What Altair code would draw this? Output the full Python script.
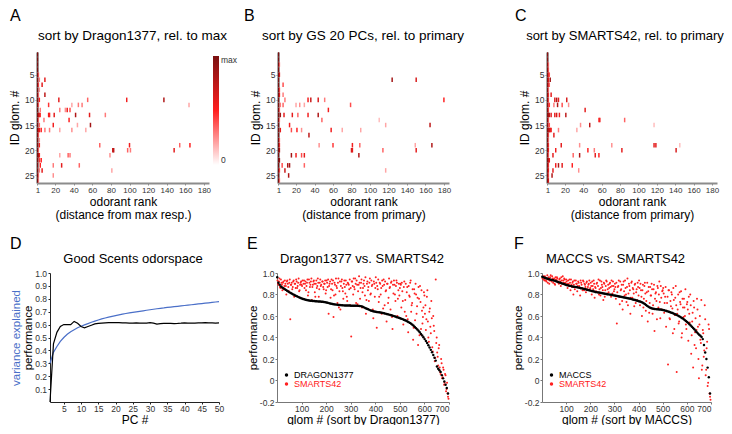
import altair as alt
import pandas as pd

FONT = "Liberation Sans"
RED = "#ff2020"
BLUE = "#4a6fc8"
HEAT_GREY = "#8c8c8c"

# ---------------- heatmap data (glomerulus row, odorant rank, relative response) ----------------
GLOM_IDS = list(range(1, 27))
ROW_TICKS = [5, 10, 15, 20, 25]
RANK_TICKS = [1, 20, 40, 60, 80, 100, 120, 140, 160, 180]

A_RANK1 = [1.0, 1.0, 1.0, 1.0, 1.0, 1.0, 1.0, 1.0, 1.0, 1.0, 1.0, 1.0, 1.0,
           1.0, 1.0, 1.0, 1.0, 1.0, 1.0, 1.0, 1.0, 1.0, 1.0, 1.0, 1.0, 1.0]
B_RANK1 = [1.0, 1.0, 1.0, 1.0, 1.0, 1.0, 1.0, 1.0, 1.0, 1.0, 1.0, 1.0, 1.0,
           1.0, 1.0, 1.0, 1.0, 1.0, 1.0, 1.0, 1.0, 1.0, 1.0, 1.0, 1.0, 1.0]
C_RANK1 = [0.95, 0.95, 0.95, 0.95, 0.95, 0.95, 0.95, 0.95, 0.95, 0.95, 0.95, 0.95, 0.95,
           0.95, 0.95, 0.95, 0.95, 0.95, 0.95, 0.95, 0.95, 0.95, 0.95, 0.95, 0.95, 0.95]

A_CELLS = [
    (5, 2, 0.35), (6, 3, 0.30), (7, 2, 0.40), (8, 3, 0.25), (9, 2, 0.30), (10, 3, 0.50),
    (11, 2, 0.35), (12, 4, 0.30), (13, 2, 0.60), (13, 3, 0.75), (13, 4, 0.45), (14, 2, 0.30),
    (15, 3, 0.35), (16, 2, 0.55), (16, 3, 0.60), (16, 5, 0.50), (17, 2, 0.35), (18, 3, 0.25),
    (19, 3, 0.55), (20, 2, 0.30), (21, 2, 0.85), (21, 3, 0.60), (22, 3, 0.45), (23, 4, 0.50),
    (24, 3, 0.30), (25, 2, 0.30), (26, 2, 0.25),
    (6, 9, 0.60), (7, 6, 0.60), (9, 9, 0.75), (10, 24, 0.60), (10, 55, 0.35), (10, 97, 0.55),
    (10, 137, 0.80), (11, 13, 0.45), (11, 38, 0.20), (11, 45, 0.30), (11, 49, 0.30),
    (11, 164, 0.20), (12, 25, 0.30), (12, 31, 0.25), (12, 33, 0.55), (12, 36, 0.40),
    (13, 13, 0.55), (13, 14, 0.50), (13, 19, 0.60), (13, 42, 0.80), (13, 57, 0.60),
    (13, 74, 0.30), (14, 8, 0.30), (14, 35, 0.50), (15, 18, 0.55), (15, 44, 0.20),
    (15, 58, 0.85), (16, 9, 0.30), (16, 14, 0.30), (16, 25, 0.20), (16, 38, 0.25),
    (16, 53, 0.20), (19, 68, 0.35), (19, 100, 0.55), (19, 154, 0.35), (19, 165, 0.50),
    (20, 82, 0.70), (20, 83, 0.75), (20, 98, 0.35), (20, 101, 0.30), (20, 148, 0.60),
    (21, 25, 0.20), (21, 34, 0.35), (21, 36, 0.30), (21, 79, 0.25), (22, 5, 0.50),
    (23, 18, 0.30), (23, 27, 0.60), (23, 46, 0.35), (24, 6, 0.60), (24, 81, 0.20),
    (25, 18, 0.25),
]

B_CELLS = [
    (3, 2, 0.30), (5, 2, 0.60), (6, 124, 0.85), (6, 150, 0.65), (7, 6, 0.40), (8, 2, 0.40),
    (9, 2, 0.55), (9, 6, 0.30), (10, 8, 0.30), (10, 33, 0.55), (10, 36, 0.70), (10, 44, 0.65),
    (10, 51, 0.30), (10, 180, 0.50), (11, 3, 0.30), (11, 6, 0.35), (11, 20, 0.20),
    (11, 24, 0.25), (11, 29, 0.20), (11, 79, 0.40), (12, 2, 0.30), (12, 55, 0.55),
    (13, 3, 0.85), (13, 7, 0.60), (13, 16, 0.60), (13, 22, 0.35), (13, 33, 0.55),
    (13, 44, 0.80), (14, 2, 0.25), (14, 48, 0.35), (14, 110, 0.15), (15, 13, 0.55),
    (15, 117, 0.20), (15, 165, 0.75), (16, 3, 0.60), (16, 15, 0.40), (16, 21, 0.50),
    (16, 26, 0.25), (16, 58, 0.55), (16, 70, 0.20), (16, 90, 0.20), (17, 34, 0.75),
    (18, 2, 0.30), (19, 2, 0.45), (19, 45, 0.25), (19, 60, 0.45), (19, 81, 0.55),
    (19, 89, 0.35), (19, 149, 0.20), (19, 167, 0.80), (20, 2, 0.80), (20, 80, 0.65),
    (20, 81, 0.60), (20, 114, 0.35), (20, 150, 0.60), (21, 15, 0.85), (21, 20, 0.55),
    (21, 26, 0.40), (21, 29, 0.60), (21, 88, 0.80), (22, 2, 0.90), (23, 5, 0.40),
    (23, 11, 0.80), (23, 13, 0.85), (23, 29, 0.35), (24, 2, 0.40), (24, 8, 0.70),
    (24, 117, 0.20), (25, 12, 0.80), (26, 2, 0.30),
]

C_CELLS = [
    (3, 2, 0.30), (4, 2, 0.35), (5, 2, 0.50), (5, 3, 0.40), (6, 2, 0.55), (6, 4, 0.85),
    (7, 2, 0.60), (7, 3, 0.35), (8, 2, 0.30), (9, 2, 0.45), (9, 5, 0.60), (10, 2, 0.40),
    (11, 2, 0.35), (11, 3, 0.45), (12, 2, 0.40), (13, 2, 0.80), (13, 3, 0.75), (13, 5, 0.60),
    (14, 2, 0.35), (15, 2, 0.30), (15, 3, 0.40), (16, 2, 0.70), (16, 3, 0.75), (16, 4, 0.60),
    (16, 5, 0.55), (17, 2, 0.40), (18, 2, 0.30), (19, 2, 0.45), (20, 2, 0.50), (21, 2, 0.35),
    (22, 2, 0.70), (22, 3, 0.60), (23, 2, 0.45), (24, 2, 0.50), (25, 2, 0.40), (26, 2, 0.60),
    (10, 9, 0.60), (10, 11, 0.80), (10, 13, 0.60), (10, 22, 0.65), (11, 8, 0.30),
    (11, 12, 0.80), (11, 17, 0.40), (11, 24, 0.25), (12, 42, 0.60), (13, 9, 0.60),
    (13, 11, 0.65), (13, 14, 0.55), (13, 21, 0.75), (14, 57, 0.45), (14, 58, 0.55),
    (14, 85, 0.35), (15, 37, 0.25), (15, 47, 0.75), (15, 117, 0.15), (16, 13, 0.30),
    (16, 33, 0.20), (17, 8, 0.60), (19, 16, 0.60), (19, 36, 0.25), (19, 71, 0.25),
    (19, 117, 0.60), (19, 119, 0.60), (19, 145, 0.15), (20, 10, 0.55), (20, 45, 0.50),
    (20, 52, 0.30), (20, 82, 0.60), (20, 141, 0.65), (21, 7, 0.60), (21, 29, 0.35),
    (21, 36, 0.80), (21, 53, 0.60), (21, 57, 0.50), (23, 10, 0.55), (23, 13, 0.80),
    (23, 17, 0.60), (23, 28, 0.50), (24, 7, 0.60), (24, 35, 0.25), (25, 6, 0.80),
]

# ---------------- panel D data ----------------
PC = list(range(1, 51))
PERF_D = [0.000, 0.450, 0.540, 0.585, 0.600, 0.600, 0.600, 0.625, 0.610, 0.585,
          0.575, 0.585, 0.595, 0.605, 0.610, 0.612, 0.614, 0.615, 0.615, 0.616,
          0.615, 0.614, 0.613, 0.612, 0.612, 0.613, 0.612, 0.611, 0.612, 0.615,
          0.612, 0.604, 0.607, 0.610, 0.609, 0.610, 0.608, 0.609, 0.611, 0.614,
          0.612, 0.611, 0.612, 0.613, 0.614, 0.615, 0.614, 0.613, 0.612, 0.613]
VAR_D = [0.300, 0.385, 0.430, 0.470, 0.500, 0.525, 0.545, 0.560, 0.575, 0.587,
         0.598, 0.608, 0.618, 0.627, 0.636, 0.644, 0.651, 0.658, 0.664, 0.670,
         0.676, 0.681, 0.686, 0.691, 0.695, 0.699, 0.703, 0.707, 0.711, 0.715,
         0.719, 0.723, 0.726, 0.729, 0.733, 0.736, 0.739, 0.742, 0.745, 0.748,
         0.751, 0.754, 0.757, 0.760, 0.763, 0.766, 0.769, 0.772, 0.775, 0.778]

# ---------------- panels E/F data ----------------
# black: every 5th glom (x = 1, 6, 11, ...); red: every 4th glom (x = 2, 6, ...) and (x = 4, 8, ...)
GLOM_TICKS = [100, 200, 300, 400, 500, 600, 700]
PERF_TICKS = [-0.2, 0, 0.2, 0.4, 0.6, 0.8, 1.0]

E_BLACK = [0.960, 0.910, 0.890, 0.875, 0.865, 0.858, 0.851, 0.843, 0.835, 0.828,
           0.820, 0.814, 0.808, 0.801, 0.795, 0.789, 0.783, 0.778, 0.773, 0.768,
           0.763, 0.759, 0.755, 0.752, 0.749, 0.746, 0.744, 0.742, 0.741, 0.740,
           0.739, 0.738, 0.737, 0.736, 0.735, 0.734, 0.733, 0.732, 0.731, 0.729,
           0.726, 0.723, 0.720, 0.717, 0.714, 0.712, 0.710, 0.708, 0.706, 0.705,
           0.703, 0.702, 0.701, 0.700, 0.699, 0.698, 0.698, 0.697, 0.697, 0.697,
           0.696, 0.696, 0.696, 0.695, 0.695, 0.695, 0.694, 0.693, 0.692, 0.688,
           0.683, 0.678, 0.672, 0.667, 0.662, 0.657, 0.652, 0.648, 0.645, 0.642,
           0.640, 0.638, 0.636, 0.634, 0.632, 0.630, 0.628, 0.625, 0.622, 0.619,
           0.616, 0.613, 0.610, 0.607, 0.603, 0.599, 0.595, 0.591, 0.587, 0.583,
           0.579, 0.575, 0.571, 0.566, 0.561, 0.555, 0.549, 0.543, 0.536, 0.528,
           0.519, 0.509, 0.498, 0.487, 0.475, 0.462, 0.448, 0.433, 0.418, 0.402,
           0.385, 0.367, 0.348, 0.328, 0.307, 0.285, 0.262, 0.238, 0.212, 0.185,
           0.130, 0.110, 0.095, 0.080, 0.050, 0.020, -0.010, -0.040, -0.070, -0.120]

E_RED = [0.93, 0.89, 0.95, 0.86, 0.91, 0.84, 0.92, 0.88, 0.90, 0.80, 0.93, 0.87, 0.91,
         0.57, 0.89, 0.85, 0.92, 0.78, 0.90, 0.94, 0.86, 0.91, 0.83, 0.89, 0.92,
         0.88, 0.76, 0.93, 0.90, 0.84, 0.91, 0.79, 0.94, 0.87, 0.92, 0.75, 0.89, 0.93,
         0.82, 0.90, 0.86, 0.95, 0.78, 0.91, 0.88, 0.73, 0.92, 0.85, 0.90, 0.81,
         0.93, 0.87, 0.62, 0.90, 0.77, 0.94, 0.84, 0.59, 0.91, 0.80, 0.88, 0.72, 0.95,
         0.83, 0.66, 0.92, 0.86, 0.76, 0.93, 0.81, 0.89, 0.74, 0.90, 0.85, 0.70,
         0.41, 0.92, 0.80, 0.87, 0.95, 0.72, 0.89, 0.83, 0.97, 0.76, 0.91, 0.68, 0.86,
         0.93, 0.79, 0.62, 0.90, 0.84, 0.74, 0.95, 0.81, 0.88, 0.66, 0.92, 0.78,
         0.96, 0.49, 0.85, 0.73, 0.91, 0.80, 0.62, 0.88, 0.94, 0.70, 0.83, 0.55, 0.90,
         0.77, 0.86, 0.66, 0.92, 0.48, 0.81, 0.89, 0.74, 0.93, 0.60, 0.84, 0.79,
         0.90, 0.68, 0.83, 0.52, 0.92, 0.75, 0.60, 0.87, 0.45, 0.79, 0.91, 0.64, 0.72,
         0.38, 0.85, 0.56, 0.80, 0.69, 0.33, 0.76, 0.88, 0.48, 0.65, 0.59, 0.82,
         0.62, 0.47, 0.78, 0.55, 0.36, 0.67, 0.44, 0.58, 0.27, 0.51, 0.18, 0.94, 0.40,
         0.22, 0.30, 0.12, 0.06, 0.16, 0.03, 0.10, -0.02, 0.05, -0.08, -0.12, -0.17]

E_RED2 = [0.90, 0.92, 0.87, 0.94, 0.89, 0.91, 0.85, 0.93, 0.88, 0.92, 0.90, 0.83, 0.94,
          0.89, 0.91, 0.87, 0.93, 0.90, 0.86, 0.92, 0.88, 0.95, 0.84, 0.91, 0.89,
          0.93, 0.90, 0.86, 0.92, 0.88, 0.94, 0.82, 0.91, 0.89, 0.95, 0.87, 0.92, 0.90,
          0.78, 0.93, 0.88, 0.91, 0.85, 0.94, 0.89, 0.92, 0.87, 0.90, 0.93, 0.84,
          0.91, 0.94, 0.88, 0.92, 0.85, 0.90, 0.93, 0.79, 0.89, 0.95, 0.86, 0.91, 0.68,
          0.92, 0.88, 0.94, 0.83, 0.90, 0.87, 0.93, 0.78, 0.91, 0.89, 0.94, 0.86,
          0.92, 0.88, 0.95, 0.85, 0.90, 0.93, 0.71, 0.89, 0.91, 0.86, 0.94, 0.82, 0.90,
          0.88, 0.96, 0.75, 0.92, 0.87, 0.91, 0.80, 0.93, 0.89, 0.58, 0.90, 0.86,
          0.91, 0.88, 0.94, 0.78, 0.90, 0.86, 0.93, 0.67, 0.89, 0.92, 0.84, 0.90, 0.72,
          0.95, 0.87, 0.91, 0.59, 0.89, 0.93, 0.80, 0.88, 0.91, 0.76, 0.90, 0.86,
          0.89, 0.91, 0.74, 0.87, 0.64, 0.90, 0.82, 0.57, 0.88, 0.78, 0.93, 0.70, 0.85,
          0.49, 0.81, 0.90, 0.62, 0.77, 0.87, 0.42, 0.73, 0.84, 0.53, 0.68, 0.79,
          0.70, 0.57, 0.84, 0.40, 0.64, 0.50, 0.74, 0.31, 0.60, 0.46, 0.21, 0.35, 0.26,
          0.14, 0.33, 0.08, 0.20, 0.02, 0.12, -0.04, 0.06, -0.10, -0.02, -0.15]

F_BLACK = [0.965, 0.960, 0.956, 0.952, 0.948, 0.945, 0.942, 0.938, 0.935, 0.932,
           0.929, 0.925, 0.921, 0.917, 0.913, 0.909, 0.905, 0.901, 0.897, 0.893,
           0.889, 0.886, 0.883, 0.880, 0.878, 0.875, 0.873, 0.871, 0.869, 0.867,
           0.864, 0.862, 0.859, 0.857, 0.854, 0.851, 0.848, 0.845, 0.842, 0.839,
           0.836, 0.833, 0.830, 0.827, 0.824, 0.822, 0.820, 0.818, 0.816, 0.814,
           0.812, 0.810, 0.807, 0.805, 0.803, 0.801, 0.799, 0.797, 0.795, 0.792,
           0.790, 0.788, 0.786, 0.784, 0.781, 0.779, 0.777, 0.775, 0.773, 0.770,
           0.768, 0.765, 0.763, 0.760, 0.757, 0.754, 0.751, 0.748, 0.745, 0.742,
           0.738, 0.734, 0.730, 0.725, 0.719, 0.712, 0.703, 0.694, 0.686, 0.679,
           0.674, 0.670, 0.667, 0.665, 0.664, 0.663, 0.662, 0.661, 0.660, 0.658,
           0.656, 0.653, 0.650, 0.647, 0.643, 0.639, 0.635, 0.631, 0.627, 0.622,
           0.617, 0.612, 0.606, 0.600, 0.594, 0.587, 0.580, 0.572, 0.563, 0.554,
           0.544, 0.534, 0.523, 0.512, 0.500, 0.488, 0.476, 0.463, 0.450, 0.437,
           0.425, 0.416, 0.405, 0.385, 0.330, 0.260, 0.200, 0.120, 0.030, -0.120]

F_RED = [0.95, 0.97, 0.93, 0.96, 0.92, 0.98, 0.94, 0.90, 0.96, 0.93, 0.97, 0.91, 0.95,
         0.89, 0.94, 0.96, 0.92, 0.90, 0.95, 0.88, 0.93, 0.97, 0.91, 0.94, 0.89,
         0.92, 0.86, 0.90, 0.94, 0.84, 0.89, 0.91, 0.80, 0.93, 0.87, 0.90, 0.83, 0.92,
         0.88, 0.79, 0.91, 0.86, 0.93, 0.84, 0.89, 0.82, 0.92, 0.87, 0.90, 0.85,
         0.91, 0.80, 0.88, 0.93, 0.77, 0.86, 0.90, 0.82, 0.94, 0.85, 0.79, 0.92, 0.87,
         0.75, 0.90, 0.84, 0.93, 0.81, 0.89, 0.86, 0.91, 0.78, 0.88, 0.92, 0.83,
         0.90, 0.76, 0.53, 0.87, 0.93, 0.71, 0.84, 0.89, 0.66, 0.92, 0.79, 0.86, 0.73,
         0.95, 0.81, 0.88, 0.62, 0.91, 0.77, 0.85, 0.69, 0.90, 0.82, 0.75, 0.87,
         0.93, 0.70, 0.84, 0.60, 0.89, 0.76, 0.91, 0.65, 0.82, 0.55, 0.87, 0.72, 0.79,
         0.90, 0.62, 0.85, 0.46, 0.81, 0.74, 0.88, 0.68, 0.92, 0.58, 0.77, 0.83,
         0.86, 0.63, 0.78, 0.50, 0.72, 0.15, 0.84, 0.57, 0.69, 0.80, 0.44, 0.75, 0.61,
         0.88, 0.08, 0.66, 0.53, 0.82, 0.71, 0.40, 0.76, 0.59, 0.68, 0.85, 0.48,
         0.73, 0.37, 0.62, 0.80, 0.25, 0.55, 0.12, 0.68, 0.45, 0.30, 0.76, 0.50, 0.02,
         0.60, 0.35, 0.10, 0.47, 0.22, 0.70, 0.05, 0.30, -0.05, 0.52, -0.12, -0.18]

F_RED2 = [0.96, 0.94, 0.97, 0.93, 0.95, 0.91, 0.96, 0.93, 0.98, 0.92, 0.95, 0.94, 0.90,
          0.96, 0.93, 0.95, 0.91, 0.94, 0.92, 0.96, 0.90, 0.93, 0.95, 0.91, 0.94,
          0.90, 0.93, 0.88, 0.91, 0.94, 0.87, 0.92, 0.89, 0.85, 0.93, 0.90, 0.88, 0.91,
          0.86, 0.93, 0.89, 0.84, 0.92, 0.90, 0.87, 0.91, 0.85, 0.89, 0.93, 0.86,
          0.88, 0.92, 0.85, 0.90, 0.87, 0.83, 0.91, 0.88, 0.80, 0.93, 0.86, 0.89, 0.84,
          0.91, 0.78, 0.88, 0.92, 0.85, 0.82, 0.90, 0.87, 0.93, 0.81, 0.88, 0.85,
          0.87, 0.91, 0.82, 0.88, 0.78, 0.92, 0.85, 0.74, 0.89, 0.83, 0.93, 0.80, 0.87,
          0.70, 0.90, 0.84, 0.77, 0.92, 0.86, 0.81, 0.89, 0.72, 0.85, 0.91, 0.79,
          0.86, 0.90, 0.78, 0.84, 0.68, 0.88, 0.81, 0.74, 0.91, 0.83, 0.63, 0.87, 0.79,
          0.85, 0.70, 0.89, 0.76, 0.82, 0.57, 0.86, 0.80, 0.73, 0.88, 0.66, 0.84,
          0.81, 0.72, 0.87, 0.65, 0.78, 0.84, 0.58, 0.74, 0.82, 0.67, 0.86, 0.48, 0.77,
          0.70, 0.62, 0.80, 0.55, 0.73, 0.83, 0.44, 0.68, 0.76, 0.60, 0.52, 0.71,
          0.66, 0.78, 0.54, 0.70, 0.42, 0.63, 0.74, 0.33, 0.58, 0.47, 0.66, 0.20, 0.52,
          0.38, 0.75, 0.14, 0.44, 0.28, 0.57, 0.10, 0.36, -0.02, 0.48, -0.15]

# ---------------- layout (plot sizes and outer margins of each panel) ----------------
H1, T1, B1 = 131, 44, 40
H2, T2, B2 = 129, 50, 16


# ---------------- helpers ----------------
def spacer(L, R, T, B, W, H):
    # invisible frame fixing each panel's outer extent
    return alt.Chart(pd.DataFrame({"s": [0]})).mark_rule(opacity=0).encode(
        x=alt.value(-L), x2=alt.value(W + R), y=alt.value(-T), y2=alt.value(H + B))


def text_mark(txt, x, y, size, align="left", baseline="top", color="black"):
    return alt.Chart(pd.DataFrame({"t": [txt]})).mark_text(
        font=FONT, fontSize=size, align=align, baseline=baseline, color=color
    ).encode(text="t:N", x=alt.value(x), y=alt.value(y))


HEAT_SCALE = alt.Scale(domain=[0, 0.5, 1], range=["#ffffff", "#ff1f1f", "#7a1010"],
                       interpolate="rgb")


def heatmap(cells, first_col, letter, letter_xy, title, title_x, title_size, dist_label,
            L, R, W, legend):
    df = pd.DataFrame({
        "row": [c[0] for c in cells] + GLOM_IDS,
        "rank": [c[1] for c in cells] + [1] * len(GLOM_IDS),
        "val": [c[2] for c in cells] + first_col,
    })
    rect = alt.Chart(df).transform_calculate(
        x1="max(datum.rank - 0.8, 0.5)", x2="datum.rank + 0.8",
        y1="datum.row - 0.45", y2="datum.row + 0.45",
    ).mark_rect(strokeWidth=0).encode(
        x=alt.X("x1:Q", scale=alt.Scale(domain=[0.5, 185.5], nice=False, zero=False),
                axis=alt.Axis(values=RANK_TICKS, title=["odorant rank", dist_label],
                              titleLineHeight=13.5, titlePadding=2, labelFlush=False,
                              labelFontSize=8, tickSize=2, labelPadding=1,
                              domainColor=HEAT_GREY, domainWidth=2, tickColor=HEAT_GREY,
                              titleFontSize=12)),
        x2="x2:Q",
        y=alt.Y("y1:Q", scale=alt.Scale(domain=[0.5, 26.5], reverse=True, nice=False, zero=False),
                axis=alt.Axis(values=ROW_TICKS, title="ID glom. #", titlePadding=3,
                              labelFontSize=8.5, tickSize=2, labelPadding=1,
                              domainColor=HEAT_GREY, domainWidth=2.5, tickColor=HEAT_GREY,
                              titleFontSize=12)),
        y2="y2:Q",
        color=alt.Color("val:Q", scale=HEAT_SCALE, legend=legend),
    )
    return alt.layer(
        rect,
        spacer(L, R, T1, B1, W, H1),
        text_mark(letter, letter_xy[0], letter_xy[1], 16),
        text_mark(title, title_x, -12, title_size, align="center", baseline="alphabetic"),
    ).properties(width=W, height=H1)


def scatter(black_vals, red_vals, red_vals2, black_name, letter, letter_xy, title, title_x,
            xtitle, L, R, W):
    bdf = pd.DataFrame({"glom": [1 + 5 * i for i in range(len(black_vals))],
                        "perf": black_vals, "set1": black_name})
    rdf = pd.DataFrame({
        "glom": [2 + 4 * j for j in range(len(red_vals))] + [4 + 4 * j for j in range(len(red_vals2))],
        "perf": red_vals + red_vals2,
        "set2": "SMARTS42"})
    x = alt.X("glom:Q", scale=alt.Scale(domain=[0, 700], nice=False, zero=False),
              axis=alt.Axis(values=GLOM_TICKS, title=xtitle, titlePadding=1, labelFontSize=8.5,
                            tickSize=2, labelPadding=0.5, domainColor="#777", tickColor="#777",
                            titleFontSize=12))
    y = alt.Y("perf:Q", scale=alt.Scale(domain=[-0.2, 1.0], nice=False, zero=False),
              axis=alt.Axis(values=PERF_TICKS, title="performance", titlePadding=1,
                            labelExpr="datum.value == 0 ? '0' : (datum.value < 0 ? '-' + format(-datum.value, '.1f') : format(datum.value, '.1f'))",
                            labelFontSize=8.5, tickSize=2, labelPadding=1,
                            domainColor="#777", tickColor="#777", titleFontSize=11.5))
    red = alt.Chart(rdf).mark_circle(size=4, opacity=1).encode(
        x=x, y=y,
        fill=alt.Fill("set2:N", scale=alt.Scale(domain=["SMARTS42"], range=[RED]),
                      legend=alt.Legend(orient="none", legendX=5, legendY=H2 - 22.5, title=None,
                                        labelFont=FONT, labelFontSize=9, labelColor=RED,
                                        symbolSize=12, symbolType="circle", padding=0,
                                        labelOffset=3, symbolStrokeWidth=0)))
    black = alt.Chart(bdf).mark_circle(size=6, opacity=1).encode(
        x=x, y=y,
        color=alt.Color("set1:N", scale=alt.Scale(domain=[black_name], range=["black"]),
                        legend=alt.Legend(orient="none", legendX=5, legendY=H2 - 31.5, title=None,
                                          labelFont=FONT, labelFontSize=9, labelColor="black",
                                          symbolSize=12, symbolType="circle", padding=0,
                                          labelOffset=3, symbolStrokeWidth=0)))
    return alt.layer(
        red, black,
        spacer(L, R, T2, B2, W, H2),
        text_mark(letter, letter_xy[0], letter_xy[1], 16),
        text_mark(title, title_x, -10, 13, align="center", baseline="alphabetic"),
    ).properties(width=W, height=H2)


# ---------------- row 1: heatmaps ----------------
A_LEGEND = alt.Legend(orient="none", legendX=176, legendY=4, direction="vertical",
                      gradientLength=109, gradientThickness=6, title=None, values=[0, 1],
                      labelExpr="datum.value >= 1 ? 'max' : '0'", labelFont=FONT,
                      labelFontSize=8.5, labelColor="#333", labelOffset=2,
                      labelBaseline="middle", gradientStrokeWidth=0)

panel_a = heatmap(A_CELLS, A_RANK1, "A", (-27, -T1), "sort by Dragon1377, rel. to max", 95.5, 13.5,
                  "(distance from max resp.)", 27, 30, 172, A_LEGEND)
panel_b = heatmap(B_CELLS, B_RANK1, "B", (-34, -T1), "sort by GS 20 PCs, rel. to primary", 85, 13.5,
                  "(distance from primary)", 39, 20, 171, None)
panel_c = heatmap(C_CELLS, C_RANK1, "C", (-32, -T1), "sort by SMARTS42, rel. to primary", 78, 13,
                  "(distance from primary)", 78, 2, 170, None)

# ---------------- row 2 ----------------
d_df = pd.DataFrame({"pc": PC, "perf": PERF_D, "var": VAR_D})
xD = alt.X("pc:Q", scale=alt.Scale(domain=[1, 50], nice=False, zero=False),
           axis=alt.Axis(values=list(range(5, 51, 5)), title="PC #", titlePadding=1,
                         labelFlush=False, labelFontSize=8.5, tickSize=2, labelPadding=0.5,
                         domainColor="#222", tickColor="#222", titleFontSize=12))
d_var = alt.Chart(d_df).mark_line(color=BLUE, strokeWidth=1.2).encode(
    x=xD,
    y=alt.Y("var:Q", scale=alt.Scale(domain=[0, 1], nice=False, zero=False),
            axis=alt.Axis(orient="left", title="variance explained", titleColor=BLUE,
                          labels=False, ticks=False, domain=False, titlePadding=28.5,
                          titleFontSize=11.5)))
d_perf = alt.Chart(d_df).mark_line(color="black", strokeWidth=1.2).encode(
    x=xD,
    y=alt.Y("perf:Q", scale=alt.Scale(domain=[0, 1], nice=False, zero=False),
            axis=alt.Axis(orient="left", values=[0.1, 0.2, 0.3, 0.4, 0.5, 0.6, 0.7, 0.8, 0.9, 1.0],
                          format=".1f", title="performance", titlePadding=1.5,
                          labelFontSize=8.5, tickSize=2, labelPadding=1.5,
                          domainColor="#222", tickColor="#222", titleFontSize=11.5)))
panel_d = alt.layer(
    d_var, d_perf,
    spacer(40, 8, T2, B2, 169, H2),
    text_mark("D", -40, -37, 16),
    text_mark("Good Scents odorspace", 83, -10, 13, align="center", baseline="alphabetic"),
).resolve_scale(y="independent").properties(width=169, height=H2)

# panel D's plot sits 13px right of panel A's plot: a flush-bounded empty slot shifts it
d_shift = alt.Chart(pd.DataFrame({"s": [0]})).mark_rule(opacity=0).encode(
    x=alt.value(0), x2=alt.value(13), y=alt.value(0)).properties(width=13, height=1)
panel_d_slot = alt.hconcat(d_shift, panel_d, spacing=0, bounds="flush")

panel_e = scatter(E_BLACK, E_RED, E_RED2, "DRAGON1377", "E", (-30, -37), "Dragon1377 vs. SMARTS42",
                  85, "glom # (sort by Dragon1377)", 50, 58, 172)
panel_f = scatter(F_BLACK, F_RED, F_RED2, "MACCS", "F", (-28, -37), "MACCS vs. SMARTS42", 73.5,
                  "glom # (sort by MACCS)", 35, 5, 169)

row1 = alt.hconcat(panel_a, panel_b, panel_c, spacing=0).resolve_scale(color="independent")
row2 = alt.hconcat(panel_d_slot, panel_e, panel_f, spacing=0).resolve_scale(
    color="independent", fill="independent")

chart = alt.vconcat(row1, row2, spacing=0).resolve_scale(
    color="independent", fill="independent"
).properties(padding=0).configure_view(strokeWidth=0).configure_axis(
    grid=False, labelFont=FONT, titleFont=FONT, titleFontWeight="normal",
    labelColor="#333", titleColor="black"
).configure_legend(labelFont=FONT)

chart.save("out.html", embed_options={"renderer": "svg", "actions": False})
